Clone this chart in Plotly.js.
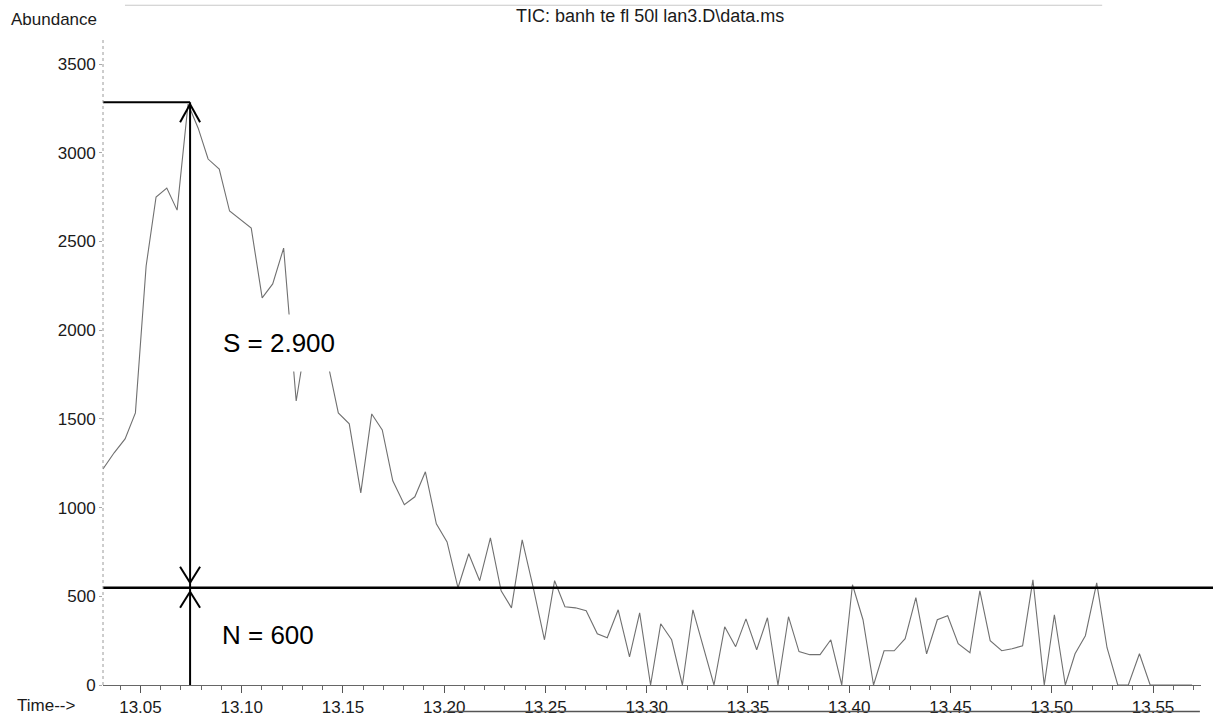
<!DOCTYPE html>
<html>
<head>
<meta charset="utf-8">
<script src="https://cdn.plot.ly/plotly-3.0.1.min.js"></script>
<style>
  html, body { margin: 0; padding: 0; background: #ffffff; }
  #chart { width: 1213px; height: 718px; }
</style>
</head>
<body>
<div id="chart"></div>
<script>
// Retention time (min)
const times = [13.0315, 13.0370, 13.0424, 13.0475, 13.0528, 13.0577, 13.0630, 13.0681, 13.0735, 13.0785,
  13.0834, 13.0889, 13.0940, 13.0992, 13.1047, 13.1101, 13.1153, 13.1207, 13.1269, 13.1321,
  13.1373, 13.1425, 13.1477, 13.1531, 13.1588, 13.1642, 13.1694, 13.1746, 13.1803, 13.1855,
  13.1907, 13.1961, 13.2014, 13.2068, 13.2121, 13.2175, 13.2228, 13.2281, 13.2332, 13.2385,
  13.2441, 13.2495, 13.2545, 13.2596, 13.2648, 13.2701, 13.2756, 13.2805, 13.2859, 13.2915,
  13.2965, 13.3019, 13.3069, 13.3123, 13.3176, 13.3228, 13.3280, 13.3332, 13.3385, 13.3439,
  13.3490, 13.3543, 13.3596, 13.3648, 13.3700, 13.3752, 13.3805, 13.3856, 13.3909, 13.3963,
  13.4016, 13.4068, 13.4120, 13.4172, 13.4222, 13.4276, 13.4329, 13.4382, 13.4435, 13.4486,
  13.4538, 13.4596, 13.4645, 13.4696, 13.4753, 13.4804, 13.4856, 13.4907, 13.4963, 13.5013,
  13.5067, 13.5115, 13.5166, 13.5222, 13.5273, 13.5326, 13.5378, 13.5433, 13.5486, 13.5538,
  13.5590, 13.5641, 13.5693];

// TIC abundance
const abundance = [1218, 1309, 1387, 1534, 2362, 2751, 2801, 2677, 3275, 3139,
  2965, 2908, 2672, 2627, 2576, 2182, 2261, 2463, 1601, 1968,
  1911, 1816, 1534, 1472, 1083, 1528, 1438, 1151, 1016, 1061,
  1202, 909, 807, 548, 740, 588, 830, 531, 435, 818,
  542, 255, 588, 441, 435, 419, 289, 266, 424, 159,
  407, 0, 345, 255, 0, 424, 204, 0, 328, 216,
  373, 199, 379, 0, 385, 188, 171, 171, 255, 0,
  565, 368, 0, 193, 193, 261, 492, 176, 368, 390,
  233, 182, 531, 250, 193, 204, 221, 593, 0, 396,
  0, 176, 278, 576, 210, 0, 0, 176, 0, 0,
  0, 0, 0];

// Signal / noise annotation levels
const signalLevel = 3285;
const noiseLevel = 548;
const arrowTime = 13.0745;
const signalLabel = 'S = 2.900';
const noiseLabel = 'N = 600';

const xTickVals = [13.05, 13.10, 13.15, 13.20, 13.25, 13.30, 13.35, 13.40, 13.45, 13.50, 13.55];
const yTickVals = [0, 500, 1000, 1500, 2000, 2500, 3000, 3500];

const FONT = 'Liberation Sans, Arial, Helvetica, sans-serif';

const trace = {
  x: times, y: abundance, type: 'scatter', mode: 'lines',
  line: { color: '#707070', width: 1.1 },
  hoverinfo: 'x+y', showlegend: false
};

function arm(level, tipOff, dx, dy) {
  return { type: 'line', xref: 'x', yref: 'y', xsizemode: 'pixel', ysizemode: 'pixel',
    xanchor: arrowTime, yanchor: level, x0: 0, x1: dx, y0: tipOff, y1: tipOff + dy,
    line: { color: '#000', width: 2 } };
}

const shapes = [
  // top reference line at the peak
  { type: 'line', xref: 'paper', yref: 'y', x0: 0, x1: 0, y0: signalLevel, y1: signalLevel,
    line: { color: '#000', width: 2 } },
  // noise line, full width
  { type: 'line', xref: 'paper', yref: 'y', x0: 0, x1: 1.011, y0: noiseLevel, y1: noiseLevel,
    line: { color: '#000', width: 2.5 } },
  // vertical arrow shafts
  { type: 'line', xref: 'x', yref: 'y', x0: arrowTime, x1: arrowTime, y0: noiseLevel, y1: signalLevel,
    line: { color: '#000', width: 2 } },
  { type: 'line', xref: 'x', yref: 'y', x0: arrowTime, x1: arrowTime, y0: 0, y1: noiseLevel,
    line: { color: '#000', width: 2 } },
  // arrow heads
  arm(signalLevel, -2, -10, -18), arm(signalLevel, -2, 10, -18),
  arm(noiseLevel, 5, -10, 16), arm(noiseLevel, 5, 10, 16),
  arm(noiseLevel, -4, -10, -16), arm(noiseLevel, -4, 10, -16),
  // dotted y axis line
  { type: 'line', xref: 'paper', yref: 'paper', x0: 0, x1: 0, y0: 0, y1: 1,
    line: { color: '#9a9a9a', width: 1, dash: 'dot' } },
  // scan border lines
  { type: 'line', xref: 'paper', yref: 'paper', x0: 0.31, x1: 0.999, y0: -0.041, y1: -0.041,
    line: { color: '#555', width: 1.5 } },
  { type: 'line', xref: 'paper', yref: 'paper', x0: 0.02, x1: 0.91, y0: 1.049, y1: 1.049,
    line: { color: '#c8c8c8', width: 1.2 } }
];
// top line from axis to arrow
shapes[0].xref = 'x';
shapes[0].x0 = times[0];
shapes[0].x1 = arrowTime;

const annotations = [
  { text: signalLabel, xref: 'paper', yref: 'paper', x: 0.1607, y: 0.528, xanchor: 'center', yanchor: 'middle',
    showarrow: false, font: { family: FONT, size: 26, color: '#000' }, bgcolor: '#ffffff', borderpad: 13 },
  { text: noiseLabel, xref: 'paper', yref: 'paper', x: 0.1507, y: 0.077, xanchor: 'center', yanchor: 'middle',
    showarrow: false, font: { family: FONT, size: 26, color: '#000' } },
  { text: 'Abundance', xref: 'paper', yref: 'paper', x: -0.0856, y: 1.0265, xanchor: 'left', yanchor: 'middle',
    showarrow: false, font: { family: FONT, size: 17, color: '#1a1a1a' } },
  { text: 'Time-->', xref: 'paper', yref: 'paper', x: -0.080, y: -0.031, xanchor: 'left', yanchor: 'middle',
    showarrow: false, font: { family: FONT, size: 17, color: '#1a1a1a' } }
];

const layout = {
  width: 1213, height: 718,
  margin: { l: 103, r: 12, t: 37, b: 33 },
  paper_bgcolor: '#ffffff', plot_bgcolor: '#ffffff',
  title: { text: 'TIC: banh te fl 50l lan3.D\\data.ms', x: 0.536, xanchor: 'center', y: 0.978, yanchor: 'middle',
    font: { family: FONT, size: 18, color: '#1a1a1a' } },
  xaxis: {
    range: [13.0315, 13.5737], tickvals: xTickVals, tickformat: '.2f',
    ticks: 'outside', ticklen: 7, tickcolor: '#555', tickwidth: 1,
    showline: true, linecolor: '#666', linewidth: 1, showgrid: false, zeroline: false,
    tickfont: { family: FONT, size: 17, color: '#1a1a1a' },
    minor: { dtick: 0.01, tick0: 13.05, ticks: 'outside', ticklen: 4, tickcolor: '#666', showgrid: false }
  },
  yaxis: {
    range: [0, 3653], tickvals: yTickVals, ticks: 'outside', ticklen: 3, tickcolor: '#aaa',
    showline: false, showgrid: false, zeroline: false,
    tickfont: { family: FONT, size: 17, color: '#1a1a1a' }
  },
  shapes: shapes,
  annotations: annotations,
  showlegend: false
};

Plotly.newPlot('chart', [trace], layout, { displayModeBar: false, staticPlot: true });
</script>
</body>
</html>
